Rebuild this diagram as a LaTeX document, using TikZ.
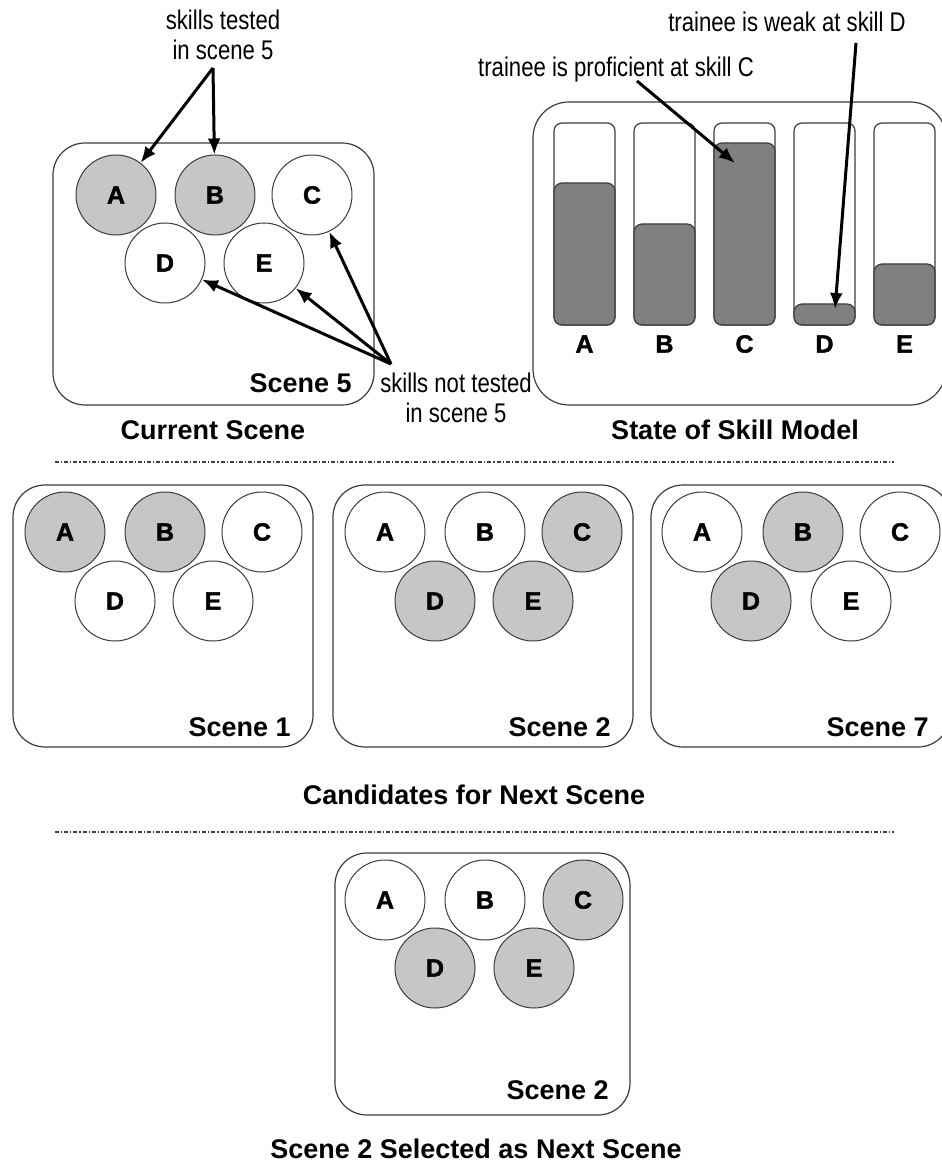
\documentclass[tikz,border=0pt]{standalone}
\usepackage{fontspec}
\setmainfont{Liberation Sans}
\newfontfamily\notefont[FakeStretch=0.82]{Liberation Sans}
\newfontfamily\heavyfont[BoldFeatures={FakeBold=1.5}]{Liberation Sans}
\usetikzlibrary{arrows.meta, positioning}

\definecolor{skillgray}{HTML}{C6C6C6}
\definecolor{bargray}{HTML}{808080}
\definecolor{edgegray}{HTML}{3C3C3C}

\tikzset{
	scenebox/.style={draw=edgegray, line width=0.6pt, rounded corners=16pt},
	skill/.style={circle, draw=edgegray, line width=0.5pt, minimum size=40pt, inner sep=0pt,
		font=\heavyfont\fontsize{12.5}{14}\selectfont\bfseries},
	scenelabel/.style={anchor=east, inner sep=0pt, font=\fontsize{13.5}{15}\selectfont\bfseries},
	caption/.style={inner sep=0pt, font=\fontsize{13.5}{15}\selectfont\bfseries},
	note/.style={align=center, inner sep=0pt, font=\notefont\fontsize{13.5}{15}\selectfont},
	pointer/.style={->, line width=1.5pt},
	divider/.style={draw=black!75, line width=1pt, dash pattern=on 2pt off 1pt on 0.6pt off 1pt},
	barframe/.style={draw=edgegray, line width=0.6pt, rounded corners=4pt, fill=white},
	barfill/.style={draw=edgegray, line width=0.6pt, rounded corners=4pt, fill=bargray},
	barlabel/.style={inner sep=0pt, font=\heavyfont\fontsize{12.5}{14}\selectfont\bfseries},
}

\begin{document}
\begin{tikzpicture}[x=0.5pt, y=-0.5pt, >={Latex[length=8pt,width=6.5pt]}]
	\useasboundingbox (0,0) rectangle (941,1165);
	
	% Current scene: scene 5
	\draw[scenebox] (53,143) rectangle (374,405);
	\foreach \l/\dx/\dy/\f in {A/63/52/skillgray, B/162/52/skillgray, C/259/52/white,
		D/112/120/white, E/211/120/white}
	\node[skill, fill=\f] (s5\l) at (53+\dx,143+\dy) {\l};
	\node[scenelabel] (s5name) at (352,383) {Scene 5};
	\node[caption] (curcap) at (213,430) {Current Scene};
	
	% skills tested in scene 5
	\node[note] (tested) at (223,35) {skills tested\\in scene 5};
	\coordinate (testedfoot) at (213,68);
	\draw[pointer] (testedfoot) -- (s5A);
	\draw[pointer] (testedfoot) -- (s5B);
	
	% skills not tested in scene 5
	\node[note] (nottested) at (456,398) {skills not tested\\in scene 5};
	\coordinate (nottestedfoot) at (391,364);
	\draw[pointer] (nottestedfoot) -- (s5C);
	\draw[pointer] (nottestedfoot) -- (s5D);
	\draw[pointer] (nottestedfoot) -- (s5E);
	
	% State of skill model
	\draw[scenebox, rounded corners=18pt] (533,102) rectangle (946,405);
	\foreach \l/\h [count=\i from 0] in {A/183, B/224, C/143, D/304, E/264} {
		\draw[barframe] (554+80*\i,123) rectangle (615+80*\i,325);
		\draw[barfill] (554+80*\i,\h) rectangle (615+80*\i,325);
		\node[barlabel] (bar\l) at (584.5+80*\i,344) {\l};
	}
	\node[caption] (modelcap) at (735,430) {State of Skill Model};
	
	% proficient / weak annotations
	\node[note] (proficient) at (616,70) {trainee is proficient at skill C};
	\coordinate (proffoot) at (637,81);
	\coordinate (barCtip) at (735,163);
	\draw[pointer] (proffoot) -- (barCtip);
	\node[note] (weak) at (787,22) {trainee is weak at skill D};
	\coordinate (weakfoot) at (856,43);
	\coordinate (barDtip) at (835,309);
	\draw[pointer] (weakfoot) -- (barDtip);
	
	\draw[divider] (55,462) -- (894,462);
	
	% Candidates: scene 1
	\draw[scenebox] (13,485) rectangle (313,747);
	\foreach \l/\dx/\dy/\f in {A/52/47/skillgray, B/152/47/skillgray, C/249/47/white,
		D/102/116/white, E/200/116/white}
	\node[skill, fill=\f] (c1\l) at (13+\dx,485+\dy) {\l};
	\node[scenelabel] (c1name) at (291,727) {Scene 1};
	
	% Candidates: scene 2
	\draw[scenebox] (333,485) rectangle (633,747);
	\foreach \l/\dx/\dy/\f in {A/52/47/white, B/152/47/white, C/249/47/skillgray,
		D/102/116/skillgray, E/200/116/skillgray}
	\node[skill, fill=\f] (c2\l) at (333+\dx,485+\dy) {\l};
	\node[scenelabel] (c2name) at (611,727) {Scene 2};
	
	% Candidates: scene 7
	\draw[scenebox] (651,485) rectangle (950,747);
	\foreach \l/\dx/\dy/\f in {A/51/47/white, B/152/47/skillgray, C/249/47/white,
		D/100/116/skillgray, E/200/116/white}
	\node[skill, fill=\f] (c7\l) at (651+\dx,485+\dy) {\l};
	\node[scenelabel] (c7name) at (929,727) {Scene 7};
	
	\node[caption] (candcap) at (474,795) {Candidates for Next Scene};
	
	\draw[divider] (55,832) -- (894,832);
	
	% Selected scene
	\draw[scenebox] (335,853) rectangle (630,1115);
	\foreach \l/\dx/\dy/\f in {A/50/47/white, B/150/47/white, C/248/47/skillgray,
		D/100/115/skillgray, E/199/115/skillgray}
	\node[skill, fill=\f] (n2\l) at (335+\dx,853+\dy) {\l};
	\node[scenelabel] (n2name) at (609,1090) {Scene 2};
	\node[caption] (nextcap) at (476,1149) {Scene 2 Selected as Next Scene};
	
\end{tikzpicture}
\end{document}
